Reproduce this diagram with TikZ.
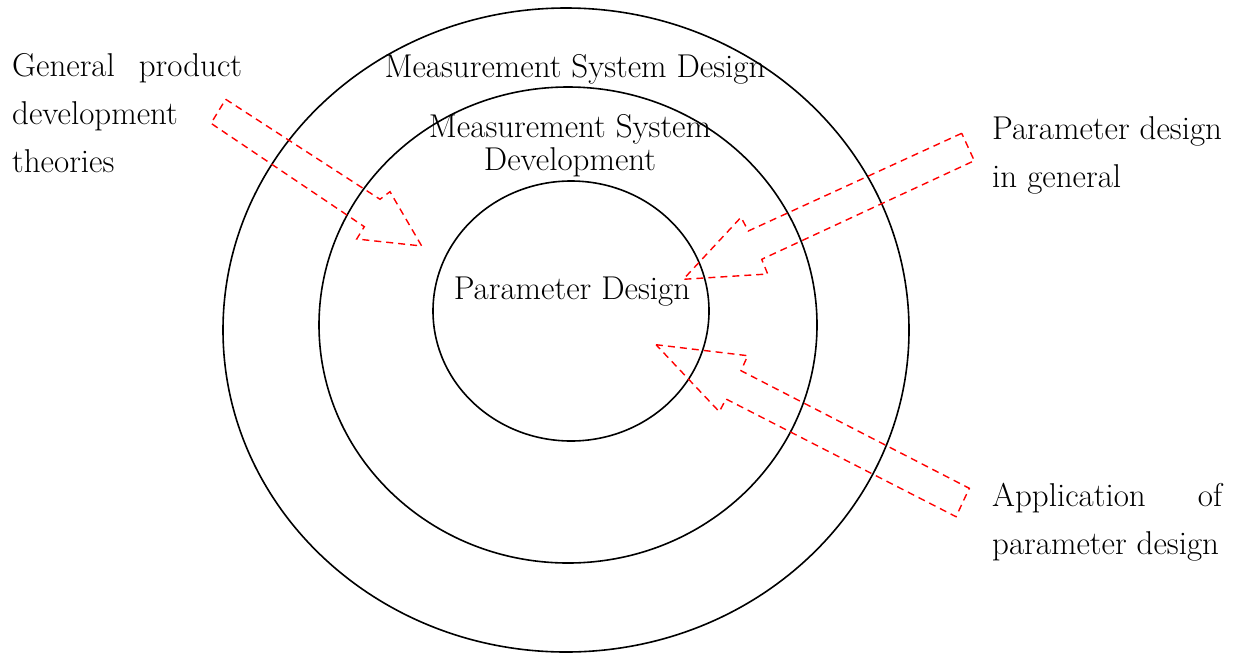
\documentclass[tikz,border=0pt]{standalone}
\begin{document}
\begin{tikzpicture}[x=1pt,y=-1pt,
  ring/.style={draw=black,line width=1.6pt},
  flow/.style={draw=red,line width=1.4pt,dash pattern=on 7pt off 5pt,line join=miter},
  lbl/.style={inner sep=0pt,font=\fontsize{33}{48}\selectfont},
  side/.style={lbl,align=left,anchor=base west}]
\useasboundingbox (0,0) rectangle (1246,654);

% nested design levels
\draw[ring] (566,330) ellipse [x radius=343, y radius=322];
\draw[ring] (568,325) ellipse [x radius=249, y radius=238];
\draw[ring] (571,311) ellipse [x radius=138, y radius=130];

\node[lbl,anchor=base] (msd) at (575,77) {Measurement System Design};
\node[lbl,anchor=base,align=center,font=\fontsize{33}{33}\selectfont] (msdev) at (570,170) {Measurement System\\Development};
\node[lbl,anchor=base] (pd) at (572,299) {Parameter Design};

% outside influences (anchored at the baseline of the last line)
\node[side] (gen) at (12,172) {\makebox[230pt][s]{General product}\\development\\theories};
\node[side] (pdg) at (992,187) {Parameter design\\in general};
\node[side] (app) at (992,554) {\makebox[230pt][s]{Application of}\\parameter design};

% block arrows
\draw[flow] (225.7,99.3) -- (380,199.3) -- (390,191.7) -- (421.7,246)
  -- (356.7,239) -- (364.3,226.7) -- (211,123.3) -- cycle;
\draw[flow] (961.7,133.3) -- (748.3,231) -- (741,217.3) -- (683.3,279.3)
  -- (767.7,274) -- (761.7,259.3) -- (974.3,160.7) -- cycle;
\draw[flow] (656,344.7) -- (747.7,355.7) -- (741,370.7) -- (969.3,488.3)
  -- (956,516.7) -- (726,399) -- (719.3,411.7) -- cycle;
\end{tikzpicture}
\end{document}
